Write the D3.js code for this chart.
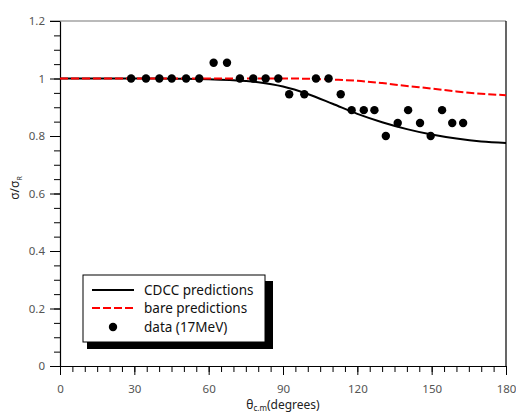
<!DOCTYPE html>
<html>
<head>
<meta charset="utf-8">
<script src="https://cdn.jsdelivr.net/npm/d3@7"></script>
<style>
  body { margin: 0; background: #fff; }
  text { font-family: "Noto Sans", sans-serif; }
</style>
</head>
<body>
<div class="chart"></div>
<script>
var svgWidth = 516;
var svgHeight = 416;

var margin = { top: 21, right: 10, bottom: 50, left: 60 };
var width = 446;
var height = 345;

// data (17MeV)
var dataAngles = [28.7, 34.7, 40.1, 45.1, 50.9, 56.2, 62.0, 67.4, 72.6, 78.0, 83.0, 88.1, 92.5, 98.6,
  103.3, 108.4, 113.3, 117.7, 122.6, 126.9, 131.5, 136.3, 140.5, 145.3, 149.6, 154.2, 158.3, 162.7];
var dataRatio = [1, 1, 1, 1, 1, 1, 1.055, 1.055, 1, 1, 1, 1, 0.945, 0.945,
  1, 1, 0.945, 0.89, 0.89, 0.89, 0.80, 0.845, 0.89, 0.845, 0.80, 0.89, 0.845, 0.845];

// CDCC predictions
var cdccAngles = [0, 10, 20, 30, 40, 50, 60, 70, 80, 90, 100, 110, 120, 130, 140, 150, 160, 170, 180];
var cdccRatio = [1, 1, 1, 1, 1, 0.999, 0.997, 0.994, 0.987, 0.972, 0.946, 0.912, 0.877, 0.848, 0.824, 0.805, 0.791, 0.781, 0.776];

// bare predictions
var bareAngles = [0, 10, 20, 30, 40, 50, 60, 70, 80, 90, 100, 110, 120, 130, 140, 150, 160, 170, 180];
var bareRatio = [1, 1, 1, 1, 1, 1, 1, 1, 1, 1, 0.999, 0.996, 0.992, 0.984, 0.974, 0.965, 0.955, 0.947, 0.942];

var xTicks = [0, 30, 60, 90, 120, 150, 180];
var yTicks = [0, 0.2, 0.4, 0.6, 0.8, 1, 1.2];
var yTickLabels = ["0", "0.2", "0.4", "0.6", "0.8", "1", "1.2"];

var legendLabels = ["CDCC predictions", "bare predictions", "data (17MeV)"];

var svg = d3.select(".chart")
  .append("svg")
  .attr("width", svgWidth)
  .attr("height", svgHeight);

var chartGroup = svg.append("g")
  .attr("transform", `translate(${margin.left}, ${margin.top})`);

var x = d3.scaleLinear().domain([0, 180]).range([0, width]);
var y = d3.scaleLinear().domain([0, 1.2]).range([height, 0]);

// frame: top gray, right black
chartGroup.append("line")
  .attr("x1", -10).attr("x2", width)
  .attr("y1", 0).attr("y2", 0)
  .attr("stroke", "#777").attr("stroke-width", 1.2);
chartGroup.append("line")
  .attr("x1", width).attr("x2", width)
  .attr("y1", 0).attr("y2", height)
  .attr("stroke", "#000").attr("stroke-width", 1.2);

// minor ticks
var xMinor = d3.range(0, 181, 5);
var yMinor = d3.range(0, 1.2001, 0.05);

chartGroup.append("g")
  .attr("transform", `translate(0, ${height})`)
  .call(d3.axisBottom(x).tickValues(xMinor).tickSize(6).tickSizeOuter(0).tickFormat(""))
  .call(g => g.select(".domain").remove());
chartGroup.append("g")
  .call(d3.axisLeft(y).tickValues(yMinor).tickSize(6).tickSizeOuter(0).tickFormat(""))
  .call(g => g.select(".domain").remove());

// major axes
var xAxis = chartGroup.append("g")
  .attr("transform", `translate(0, ${height})`)
  .call(d3.axisBottom(x).tickValues(xTicks).tickSize(9).tickSizeOuter(0).tickPadding(10));
var yAxis = chartGroup.append("g")
  .call(d3.axisLeft(y).tickValues(yTicks).tickSize(10).tickSizeOuter(0).tickPadding(5)
    .tickFormat((d, i) => yTickLabels[i]));

[xAxis, yAxis].forEach(function(a) {
  a.select(".domain").attr("stroke", "#000").attr("stroke-width", 1.2);
  a.selectAll("text").attr("fill", "#555").style("font-size", "11.5px");
});

// curves
var line = d3.line()
  .x(d => x(d[0]))
  .y(d => y(d[1]))
  .curve(d3.curveMonotoneX);

chartGroup.append("path")
  .datum(cdccAngles.map((a, i) => [a, cdccRatio[i]]))
  .attr("d", line)
  .attr("fill", "none")
  .attr("stroke", "#000")
  .attr("stroke-width", 2);

chartGroup.append("path")
  .datum(bareAngles.map((a, i) => [a, bareRatio[i]]))
  .attr("d", line)
  .attr("fill", "none")
  .attr("stroke", "#f00")
  .attr("stroke-width", 2)
  .attr("stroke-dasharray", "8,3");

chartGroup.selectAll(".dot")
  .data(dataAngles.map((a, i) => [a, dataRatio[i]]))
  .enter()
  .append("circle")
  .attr("class", "dot")
  .attr("cx", d => x(d[0]))
  .attr("cy", d => y(d[1]))
  .attr("r", 4.2)
  .attr("fill", "#000");

// axis titles
var yTitle = svg.append("text")
  .attr("transform", "translate(19, 188) rotate(-90)")
  .attr("text-anchor", "middle")
  .attr("fill", "#222")
  .style("font-size", "12px");
yTitle.append("tspan").text("σ/σ");
yTitle.append("tspan").attr("dy", 3).style("font-size", "7px").text("R");

var xTitle = svg.append("text")
  .attr("x", margin.left + width / 2)
  .attr("y", 409)
  .attr("text-anchor", "middle")
  .attr("fill", "#222")
  .style("font-size", "12px");
xTitle.append("tspan").text("θ");
xTitle.append("tspan").attr("dy", 2).style("font-size", "8px").text("c.m");
xTitle.append("tspan").attr("dy", -2).text("(degrees)");

// legend
var legend = svg.append("g").attr("transform", "translate(83, 275)");
legend.append("rect")
  .attr("x", 4).attr("y", 6)
  .attr("width", 186).attr("height", 68)
  .attr("fill", "#000");
legend.append("rect")
  .attr("x", 0).attr("y", 0)
  .attr("width", 182).attr("height", 67)
  .attr("fill", "#fff")
  .attr("stroke", "#000")
  .attr("stroke-width", 1);

var rowY = [15, 33, 52];
legend.append("line")
  .attr("x1", 9).attr("x2", 51).attr("y1", rowY[0]).attr("y2", rowY[0])
  .attr("stroke", "#000").attr("stroke-width", 2);
legend.append("line")
  .attr("x1", 9).attr("x2", 51).attr("y1", rowY[1]).attr("y2", rowY[1])
  .attr("stroke", "#f00").attr("stroke-width", 2).attr("stroke-dasharray", "8,3");
legend.append("circle")
  .attr("cx", 30).attr("cy", rowY[2]).attr("r", 4.2).attr("fill", "#000");

legend.selectAll(".lbl")
  .data(legendLabels)
  .enter()
  .append("text")
  .attr("class", "lbl")
  .attr("x", 61)
  .attr("y", (d, i) => rowY[i])
  .attr("dy", "0.35em")
  .attr("fill", "#111")
  .style("font-size", "13.5px")
  .text(d => d);
</script>
</body>
</html>
